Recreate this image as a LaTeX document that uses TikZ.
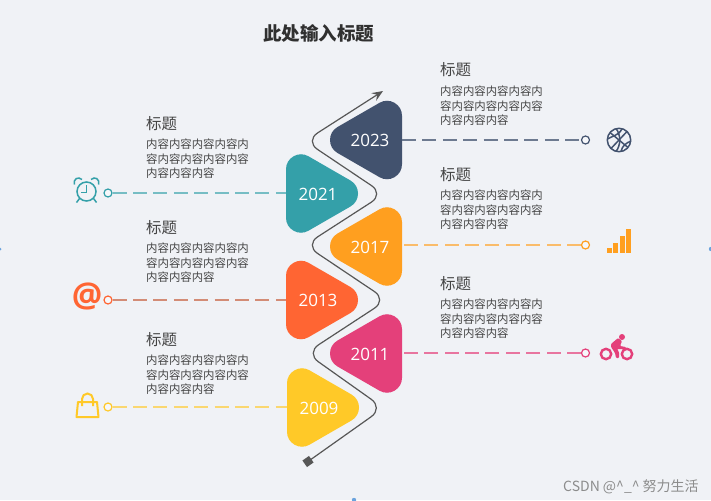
\documentclass[tikz,border=0pt]{standalone}
\usepackage{fontspec}
\setmainfont{Open Sans}
\newfontfamily\cjk{Noto Sans CJK SC}
\usetikzlibrary{arrows.meta,calc}
\definecolor{bgc}{HTML}{F0F2F6}
\definecolor{cnavy}{HTML}{42526E}
\definecolor{cteal}{HTML}{34A0A9}
\definecolor{corange}{HTML}{FF9F1F}
\definecolor{cred}{HTML}{FF6533}
\definecolor{cpink}{HTML}{E4407A}
\definecolor{cyellow}{HTML}{FFC928}
\definecolor{txt}{HTML}{444444}
\tikzset{
  year/.style={text=white,font=\fontsize{17}{18}\selectfont,inner sep=0pt},
  lead/.style={line width=1.5pt,dash pattern=on 14pt off 6.4pt},
  endring/.style={circle,draw,fill=bgc!60!white,line width=1.2pt,minimum size=8pt,inner sep=0pt},
  head/.style={anchor=base west,text=txt,font=\cjk\fontsize{15.5}{18}\selectfont,inner sep=0pt},
  body/.style={anchor=north west,text=txt,align=left,inner sep=0pt,font=\cjk\fontsize{11.4}{14.4}\selectfont},
}
% #1 name, #2 centre y, #3 colour, #4 text, #5 direction, #6 flat-edge x
\newcommand{\tri}[6]{%
  \fill[#3,draw=#3,line width=30pt,line join=round]
    (#6+#5*15,#2-24.2) -- (#6+#5*57,#2) -- (#6+#5*15,#2+24.2) -- cycle;
  \node[year] (#1) at (#6+#5*32,#2+0.5) {#4};
  \coordinate (#1e) at (#6,#2);
}
\begin{document}
\begin{tikzpicture}[x=1pt,y=-1pt]
\useasboundingbox (0,0) rectangle (711,500);
\fill[bgc] (0,0) rectangle (711,500);
% edge marks
\fill[cyan!60!blue!60] (0,249) circle (1.5);
\fill[cyan!60!blue!60] (711,249) circle (2.2);
\fill[cyan!60!blue!60] (354,500) circle (2.2);
% title
\node[text=txt!70!black,font=\cjk\bfseries\fontsize{18.5}{20}\selectfont] (title) at (318.5,33.5) {此处输入标题};
% end rings and leaders
\node[endring,draw=cnavy] (r1) at (585.5,140) {};
\node[endring,draw=cteal] (r2) at (108,193) {};
\node[endring,draw=corange] (r3) at (585.5,245) {};
\node[endring,draw=cred] (r4) at (108,300) {};
\node[endring,draw=cpink] (r5) at (585.5,353) {};
\node[endring,draw=cyellow] (r6) at (108,407) {};
% triangles
\tri{y2023}{140}{cnavy}{2023}{-1}{402}
\tri{y2021}{193.5}{cteal}{2021}{1}{286}
\tri{y2017}{246.5}{corange}{2017}{-1}{402}
\tri{y2013}{300}{cred}{2013}{1}{286}
\tri{y2011}{353.5}{cpink}{2011}{-1}{402}
\tri{y2009}{407.5}{cyellow}{2009}{1}{287}
% leaders
\draw[lead,cnavy!75!bgc] (y2023e) -- (r1);
\draw[lead,cteal!65!bgc] (r2) -- (y2021e |- r2);
\draw[lead,corange!65!bgc] (r3) -- (y2017e |- r3);
\draw[lead,cred!55!bgc!85!black] (r4) -- (y2013e |- r4);
\draw[lead,cpink!70!bgc] (r5) -- (y2011e |- r5);
\draw[lead,cyellow!65!bgc] (r6) -- (y2009e |- r6);
% serpentine
\coordinate (ss) at (308,461.5);
\coordinate (st) at (383,91);
\draw[txt!90,line width=1.2pt,rounded corners=15pt,-{Stealth[length=11pt,width=9pt,inset=4pt]}]
  (ss) -- (383.5,408) -- (306,353) -- (387,300) -- (305,245) -- (384,194) -- (305,141) -- (st);
\fill[txt!90,rotate around={35:(ss)}] ($(ss)+(-4,-4)$) rectangle ($(ss)+(4,4)$);
% texts
\node[head] (h1) at (440,76) {标题};
\node[body] (b1) at (440,86) {内容内容内容内容内\\容内容内容内容内容\\内容内容内容};
\node[head] (h2) at (440,180) {标题};
\node[body] (b2) at (440,190) {内容内容内容内容内\\容内容内容内容内容\\内容内容内容};
\node[head] (h3) at (440,289) {标题};
\node[body] (b3) at (440,299) {内容内容内容内容内\\容内容内容内容内容\\内容内容内容};
\node[head] (h4) at (146,129) {标题};
\node[body] (b4) at (146,139) {内容内容内容内容内\\容内容内容内容内容\\内容内容内容};
\node[head] (h5) at (146,233) {标题};
\node[body] (b5) at (146,243) {内容内容内容内容内\\容内容内容内容内容\\内容内容内容};
\node[head] (h6) at (146,345) {标题};
\node[body] (b6) at (146,355) {内容内容内容内容内\\容内容内容内容内容\\内容内容内容};
% clock
\begin{scope}[cteal,line width=1.5pt]
\draw (86.5,191.5) circle (9.5);
\draw[line width=1.2pt] (86.5,185) -- (86.5,192.5) -- (81,192.5);
\draw (74.5,184.5) .. controls (73,179) and (78,176) .. (82,179.5);
\draw (98.5,184.5) .. controls (100,179) and (95,176) .. (91,179.5);
\draw (79.5,198.5) -- (76.5,202.5);
\draw (93.5,198.5) -- (96.5,202.5);
\end{scope}
% at sign
\node[text=cred,font=\fontsize{34}{36}\selectfont\bfseries,inner sep=0pt] (at) at (87,296) {@};
% bag
\begin{scope}[cyellow,line width=2pt]
\draw[line join=round] (78,402) -- (97,402) -- (98.5,417) -- (76.5,417) -- cycle;
\draw (82,406) -- (82,399) arc (180:360:5.5 and 5.5) -- (93,406);
\end{scope}
% basketball
\begin{scope}[cnavy,line width=1.5pt]
\draw (619,140) circle (11.7);
\draw (610,132.5) -- (628,147.5);
\draw (627,131.5) -- (611,148.5);
\draw (616,128.5) .. controls (621,135) and (621,145) .. (616,151.5);
\draw (607.5,139) .. controls (612,136) and (618,136) .. (622,129);
\draw (631,141) .. controls (626,143) and (622,146) .. (621,151.5);
\end{scope}
% signal
\fill[corange] (607,248) rectangle (611.5,253);
\fill[corange] (613,243) rectangle (618,253);
\fill[corange] (620,236) rectangle (625,253);
\fill[corange] (626,229) rectangle (631,253);
% bike
\begin{scope}[cpink]
\draw[line width=2.4pt] (606,354) circle (5.2);
\draw[line width=2.4pt] (627,354) circle (5.2);
\fill (622,337) circle (3);
\fill[rounded corners=1pt] (611,344) -- (618,338) -- (622,341) -- (620,346) -- (626,347) -- (626,349) -- (617,349) -- (619,352) -- (619,358) -- (616,358) -- (615,353) -- (611,347) -- cycle;
\end{scope}
% watermark
\node[text=black!45,anchor=west,font=\cjk\fontsize{14}{16}\selectfont,inner sep=0pt] (wm) at (563,487) {CSDN @\textasciicircum\_\textasciicircum{} 努力生活};
\end{tikzpicture}
\end{document}
